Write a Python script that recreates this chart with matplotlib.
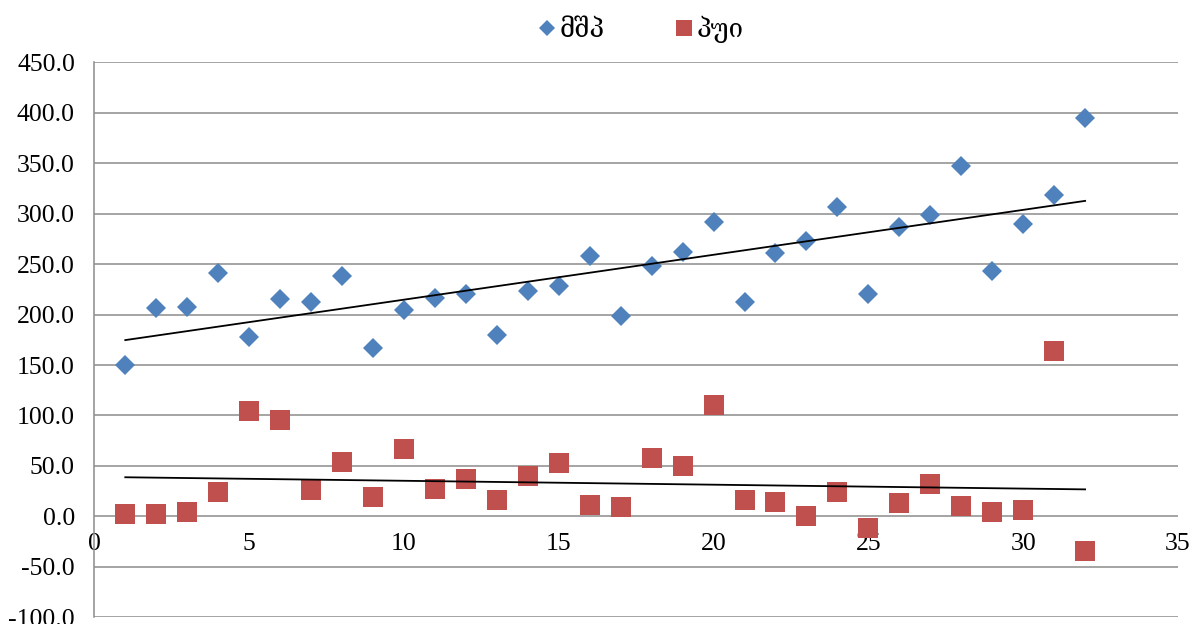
import matplotlib
matplotlib.use("Agg")
import matplotlib.pyplot as plt
import numpy as np

# values
periods = list(range(1, 33))
gdp = [150.0, 206.7, 207.3, 240.9, 178.1, 215.2, 212.3, 238.3, 166.5, 204.1,
       216.6, 220.2, 179.3, 223.8, 228.1, 257.7, 198.4, 247.8, 262.0, 291.3,
       212.3, 261.4, 272.5, 306.8, 220.5, 286.8, 298.6, 347.6, 243.6, 290.0,
       318.0, 395.1]
fdi = [2.2, 2.2, 4.4, 23.9, 104.5, 95.4, 25.9, 53.6, 19.6, 66.4,
       26.9, 36.8, 16.0, 40.0, 53.2, 11.7, 9.7, 57.5, 49.9, 109.9,
       16.0, 14.0, 0.2, 24.2, -11.1, 13.3, 32.1, 10.1, 4.7, 6.1,
       164.2, -34.4]
series_names = ["მშპ", "პუი"]
x_ticks = [0, 5, 10, 15, 20, 25, 30, 35]
y_ticks = [-100, -50, 0, 50, 100, 150, 200, 250, 300, 350, 400, 450]

BLUE = "#4F81BD"
RED = "#C0504D"
GRID = "#8C8C8C"
FONTS = ["Liberation Serif", "DejaVu Serif", "DejaVu Sans"]

plt.rcParams["font.family"] = FONTS

fig = plt.figure(figsize=(11.94, 6.24), dpi=100)
ax = fig.add_axes([0.079, 0.0107, 0.9076, 0.8895])

# gridlines drawn by hand so the tick labels can sit on top of the markers
for v in y_ticks:
    ax.axhline(v, color=GRID, linewidth=1.1, zorder=1)

x = np.array(periods, dtype=float)
ax.plot(x, gdp, linestyle="none", marker="D", markersize=10.2, color=BLUE,
        markeredgewidth=0, label=series_names[0], zorder=2)
ax.plot(x, fdi, linestyle="none", marker="s", markersize=14.2, color=RED,
        markeredgewidth=0, label=series_names[1], zorder=2)

# linear trendlines, as Excel draws them
for vals in (gdp, fdi):
    k, b = np.polyfit(x, vals, 1)
    ax.plot([x[0], x[-1]], [k * x[0] + b, k * x[-1] + b], color="black",
            linewidth=1.3, zorder=2.2)

ax.set_xlim(0, 35)
ax.set_ylim(-100, 450)
ax.set_yticks(y_ticks)
ax.set_yticklabels([f"{v:.1f}" for v in y_ticks])
ax.set_xticks(x_ticks)
ax.set_xticklabels([str(v) for v in x_ticks])

for side in ("top", "right"):
    ax.spines[side].set_visible(False)
ax.spines["left"].set_color(GRID)
ax.spines["left"].set_linewidth(1.1)
ax.spines["bottom"].set_position(("data", 0))
ax.spines["bottom"].set_visible(False)

ax.tick_params(axis="y", length=0, pad=14, labelsize=18.5)
ax.tick_params(axis="x", length=0, pad=12, labelsize=18.5)

leg = fig.legend(loc="center", bbox_to_anchor=(0.535, 0.953), ncol=2,
                 frameon=False, fontsize=18.5, handletextpad=0.0,
                 columnspacing=2.6, handlelength=1.0, markerscale=0.8)

fig.savefig("out.png", dpi=100)
